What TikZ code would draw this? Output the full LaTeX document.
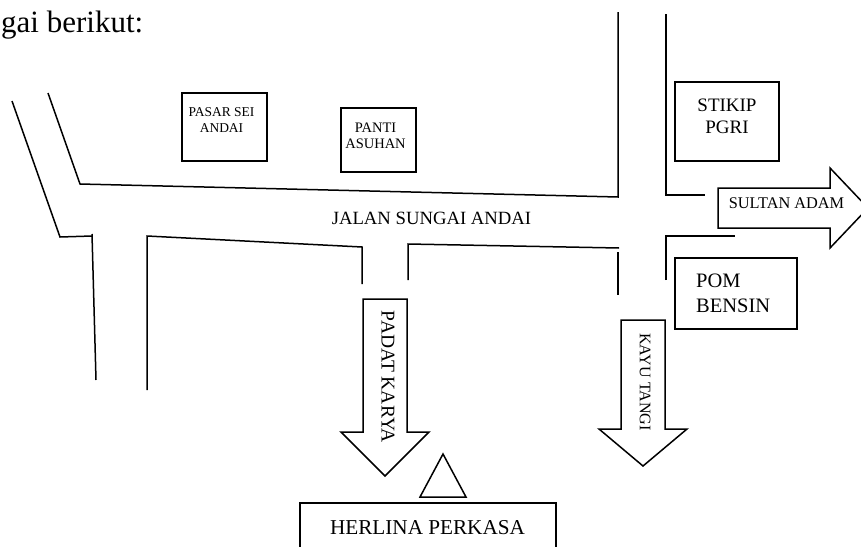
\documentclass[tikz,border=0pt]{standalone}
\usepackage{fontspec}
\setmainfont{Liberation Serif}
\tikzset{
  road/.style={draw=black,line width=1.5pt,line join=miter},
  box/.style={draw=black,line width=1.5pt},
  lbl/.style={inner sep=0pt,align=center,text=black},
}
\newcommand{\fs}[2]{\fontsize{#1}{#2}\selectfont}
\begin{document}
\begin{tikzpicture}[x=1pt,y=-1pt]
\useasboundingbox (0,0) rectangle (861,546);
\clip (0,0) rectangle (861,546);
% roads
\draw[road] (12,101) -- (60,237) -- (92,236);
\draw[road] (92,234) -- (96,380);
\draw[road] (48,93) -- (80,184) -- (618,197) -- (618,12);
\draw[road] (666,14) -- (666,195) -- (705,195);
\draw[road] (147,390) -- (147,236) -- (362,247) -- (362,284);
\draw[road] (408,280) -- (408,244) -- (619,248);
\draw[road] (618,252) -- (618,295);
\draw[road] (666,280) -- (666,236) -- (735,236);
% buildings
\draw[box] (182,93) rectangle (267,161);
\draw[box] (341,108) rectangle (416,172);
\draw[box] (675,82) rectangle (779,161);
\draw[box] (675,258) rectangle (797,329);
\draw[box] (300,503) rectangle (556,560);
% arrows
\draw[box] (718,188) -- (830,188) -- (830,168) -- (868,208) -- (830,248) -- (830,228) -- (718,228) -- cycle;
\draw[box] (363,299) -- (407,299) -- (407,432) -- (429,432) -- (385,476) -- (341,432) -- (363,432) -- cycle;
\draw[box] (621,320) -- (665,320) -- (665,429) -- (687,429) -- (643,466) -- (599,429) -- (621,429) -- cycle;
\draw[box] (443,454) -- (466,497) -- (420,497) -- cycle;
% labels
\node[lbl,anchor=base west] (intro) at (1,32) {\fs{31}{31}gai berikut:};
\node[lbl,font=\fs{13.5}{16}] (pasar) at (221.5,120.5) {PASAR SEI\\ANDAI};
\node[lbl,font=\fs{14.5}{16}] (panti) at (375.5,135.5) {PANTI\\ASUHAN};
\node[lbl] (jalan) at (431.5,218) {\fs{18.7}{20}JALAN SUNGAI ANDAI};
\node[lbl,font=\fs{19}{22}] (stikip) at (727,116.5) {STIKIP\\PGRI};
\node[lbl] (sultan) at (786.5,203) {\fs{16.3}{18}SULTAN ADAM};
\node[lbl,align=left,anchor=west,font=\fs{20.5}{25}] (pom) at (696,293) {POM\\BENSIN};
\node[lbl] (herlina) at (427.5,528) {\fs{21.2}{24}HERLINA PERKASA};
\node[lbl,rotate=-90] (padat) at (388,377) {\fs{19.5}{22}PADAT KARYA};
\node[lbl,rotate=-90] (kayu) at (645,382) {\fs{16.1}{18}KAYU TANGI};
\end{tikzpicture}
\end{document}
